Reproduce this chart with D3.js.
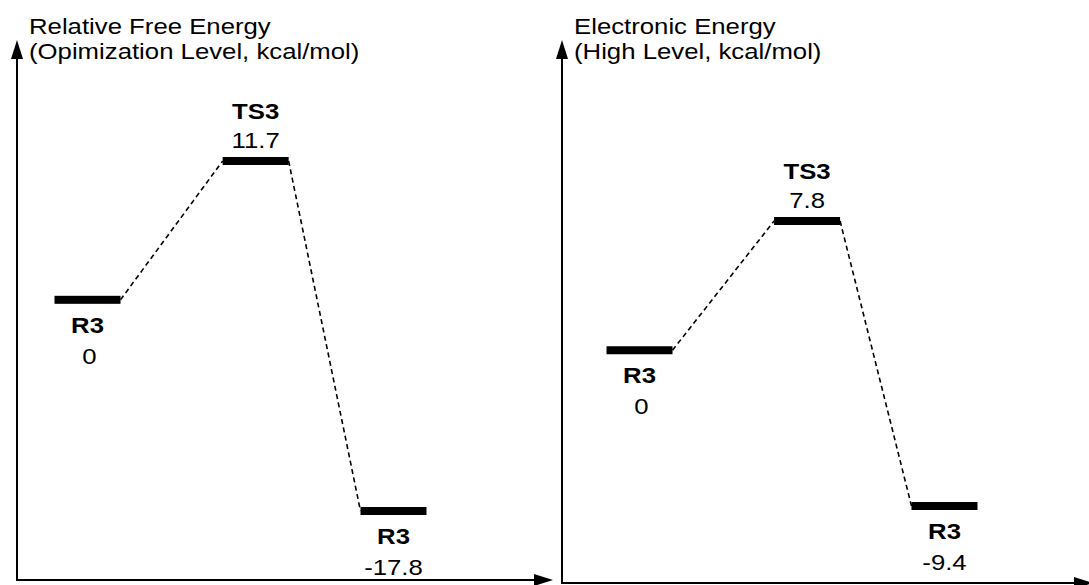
<!DOCTYPE html>
<html>
<head>
<meta charset="utf-8">
<script src="https://cdn.jsdelivr.net/npm/d3@7"></script>
<style>
  html, body { margin: 0; padding: 0; background: #fff; }
  svg { display: block; }
  text { font-family: "Liberation Sans", Arial, sans-serif; fill: #000; }
</style>
</head>
<body>
<svg id="chart" width="1089" height="585"></svg>
<script>
// ---- data ----
const species = ["R3", "TS3", "R3"];
const reactionCoord = [0, 1, 1.82];
const energiesOpt = [0, 11.7, -17.8];
const energiesHigh = [0, 7.8, -9.4];
const valueLabelsOpt = ["0", "11.7", "-17.8"];
const valueLabelsHigh = ["0", "7.8", "-9.4"];
const titleOpt = ["Relative Free Energy", "(Opimization Level, kcal/mol)"];
const titleHigh = ["Electronic Energy", "(High Level, kcal/mol)"];

const svg = d3.select("#chart");
const SX = 1.17;      // horizontal text stretch seen in reference
const FS = 22;
const barHalf = 33;

function drawPanel(cfg) {
  const g = svg.append("g");
  const x = d3.scaleLinear().domain([0, d3.max(reactionCoord)]).range(cfg.xRange);
  const y = d3.scaleLinear().domain(d3.extent(cfg.energies)).range(cfg.yRange);

  // axes
  const ax = cfg.axisX, ay = cfg.axisY;
  g.append("line").attr("x1", ax).attr("y1", ay).attr("x2", ax).attr("y2", cfg.yTip + 14)
    .attr("stroke", "#000").attr("stroke-width", 2);
  g.append("path").attr("d", `M${ax},${cfg.yTip} L${ax - 6},${cfg.yTip + 19} L${ax + 6},${cfg.yTip + 19} Z`)
    .attr("fill", "#000");
  g.append("line").attr("x1", ax - 1).attr("y1", ay).attr("x2", cfg.xTip - 14).attr("y2", ay)
    .attr("stroke", "#000").attr("stroke-width", 2);
  g.append("path").attr("d", `M${cfg.xTip},${ay} L${cfg.xTip - 19},${ay - 6} L${cfg.xTip - 19},${ay + 6} Z`)
    .attr("fill", "#000");

  // title
  cfg.title.forEach((t, i) => {
    g.append("text")
      .attr("transform", `translate(${cfg.titleX},${34 + i * 25}) scale(${SX},1)`)
      .attr("font-size", FS).text(t);
  });

  const pts = cfg.energies.map((e, i) => ({ e, cx: x(reactionCoord[i]), cy: y(e), name: species[i], val: cfg.labels[i] }));

  // dashed connectors
  for (let i = 0; i < pts.length - 1; i++) {
    const a = pts[i], b = pts[i + 1];
    g.append("line")
      .attr("x1", a.cx + barHalf).attr("y1", a.cy)
      .attr("x2", b.cx - barHalf).attr("y2", b.cy)
      .attr("stroke", "#000").attr("stroke-width", 1.6)
      .attr("stroke-dasharray", "5,3.5");
  }

  // levels
  g.selectAll("rect.level").data(pts).enter().append("rect")
    .attr("class", "level")
    .attr("x", d => d.cx - barHalf).attr("y", d => d.cy - 4)
    .attr("width", barHalf * 2).attr("height", 8)
    .attr("fill", "#000");

  // labels
  pts.forEach((d, i) => {
    const above = i > 0 && d.e > cfg.energies[i - 1] && d.e > (cfg.energies[i + 1] ?? -Infinity);
    const nameY = above ? d.cy - 42 : d.cy + 33;
    const valY = above ? d.cy - 13 : d.cy + 64;
    g.append("text")
      .attr("transform", `translate(${d.cx},${nameY}) scale(${SX},1)`)
      .attr("text-anchor", "middle").attr("font-size", FS).attr("font-weight", "bold")
      .text(d.name);
    g.append("text")
      .attr("transform", `translate(${d.cx + (d.val === "0" ? 2 : 0)},${valY}) scale(${SX},1)`)
      .attr("text-anchor", "middle").attr("font-size", FS)
      .text(d.val);
  });
}

drawPanel({
  energies: energiesOpt, labels: valueLabelsOpt, title: titleOpt,
  xRange: [87.5, 393.5], yRange: [511, 161],
  axisX: 17, axisY: 580, yTip: 40, xTip: 553, titleX: 29
});
drawPanel({
  energies: energiesHigh, labels: valueLabelsHigh, title: titleHigh,
  xRange: [639.5, 944.5], yRange: [506, 221],
  axisX: 562, axisY: 583, yTip: 40, xTip: 1093, titleX: 574
});
</script>
</body>
</html>
